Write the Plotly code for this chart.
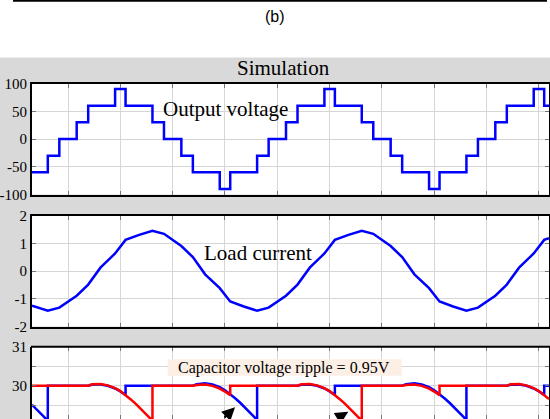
import plotly.graph_objects as go

W, H = 550, 419
SERIF = "Liberation Serif, Times New Roman, serif"
SANS = "Liberation Sans, Arial, sans-serif"

# ---------------- data (time in ms) ----------------
# Output voltage staircase: switching instants and levels
vout_t = [1.56, 3.07, 4.17, 5.83, 6.93, 9.5, 10.5, 13.07, 14.17, 15.83, 16.93, 19.5, 20.5,
          23.07, 24.17, 25.83, 26.93, 29.5, 30.5, 33.07, 34.17, 35.83, 36.93, 39.5, 40.5,
          43.07, 44.17, 45.83, 46.93, 49.5, 50.5, 50.96]
vout_v = [-60, -30, 0, 30, 60, 90, 60, 30, 0, -30, -60, -90, -60,
          -30, 0, 30, 60, 90, 60, 30, 0, -30, -60, -90, -60,
          -30, 0, 30, 60, 90, 60, 60]

# Load current
iload_t = [1.56, 1.8, 3.07, 4.17, 5.83, 6.93, 8.1, 9.5, 10.5, 11.8, 13.07, 14.17, 15.83, 16.93,
           18.1, 19.5, 20.5, 21.8, 23.07, 24.17, 25.83, 26.93, 28.1, 29.5, 30.5, 31.8, 33.07,
           34.17, 35.83, 36.93, 38.1, 39.5, 40.5, 41.8, 43.07, 44.17, 45.83, 46.93, 48.1,
           49.5, 50.5, 50.96]
iload_v = [-1.25, -1.28, -1.43, -1.32, -0.89, -0.49, 0.12, 0.63, 1.12, 1.30, 1.45, 1.34, 0.90, 0.50,
           -0.12, -0.62, -1.10, -1.28, -1.43, -1.32, -0.89, -0.49, 0.12, 0.63, 1.12, 1.30, 1.45,
           1.34, 0.90, 0.50, -0.12, -0.62, -1.10, -1.28, -1.43, -1.32, -0.89, -0.49, 0.12,
           0.63, 1.12, 1.18]

# Capacitor voltages
cap_blue_t = [1.56, 2.0, 2.5, 3.07, 3.07, 6.93, 7.3, 7.87, 8.1, 8.8, 9.5, 10.0, 10.5, 10.5,
              16.93, 17.3, 17.87, 18.1, 18.8, 19.5, 20.0, 20.5, 21.0, 21.5, 22.0, 22.5, 23.07, 23.07,
              26.93, 27.3, 27.87, 28.1, 28.8, 29.5, 30.0, 30.5, 30.5,
              36.93, 37.3, 37.87, 38.1, 38.8, 39.5, 40.0, 40.5, 41.0, 41.5, 42.0, 42.5, 43.07, 43.07,
              46.93, 47.3, 47.87, 48.1, 48.8, 49.5, 50.0, 50.5, 50.5, 50.96]
cap_blue_v = [29.51, 29.40, 29.26, 29.10, 30.0, 30.0, 30.025, 30.035, 30.033, 29.998, 29.928, 29.853, 29.763, 30.0,
              30.0, 30.04, 30.07, 30.065, 30.03, 29.96, 29.885, 29.785, 29.67, 29.55, 29.42, 29.285, 29.125, 30.0,
              30.0, 30.025, 30.035, 30.033, 29.998, 29.928, 29.853, 29.763, 30.0,
              30.0, 30.04, 30.07, 30.065, 30.03, 29.96, 29.885, 29.785, 29.67, 29.55, 29.42, 29.285, 29.125, 30.0,
              30.0, 30.025, 30.035, 30.033, 29.998, 29.928, 29.853, 29.763, 30.0, 30.0]
cap_red_t = [1.56, 6.93, 7.3, 7.87, 8.1, 8.8, 9.5, 10.0, 10.5, 11.0, 11.5, 12.0, 12.5, 13.07, 13.07,
             16.93, 17.3, 17.87, 18.1, 18.8, 19.5, 20.0, 20.5, 20.5,
             26.93, 27.3, 27.87, 28.1, 28.8, 29.5, 30.0, 30.5, 31.0, 31.5, 32.0, 32.5, 33.07, 33.07,
             36.93, 37.3, 37.87, 38.1, 38.8, 39.5, 40.0, 40.5, 40.5,
             46.93, 47.3, 47.87, 48.1, 48.8, 49.5, 50.0, 50.5, 50.96]
cap_red_v = [30.0, 30.0, 30.035, 30.046, 30.043, 30.008, 29.938, 29.863, 29.763, 29.648, 29.526, 29.398, 29.264, 29.103, 30.0,
             30.0, 30.02, 30.03, 30.028, 29.995, 29.925, 29.85, 29.755, 30.0,
             30.0, 30.035, 30.046, 30.043, 30.008, 29.938, 29.863, 29.763, 29.648, 29.526, 29.398, 29.264, 29.103, 30.0,
             30.0, 30.02, 30.03, 30.028, 29.995, 29.925, 29.85, 29.755, 30.0,
             30.0, 30.035, 30.046, 30.043, 30.008, 29.938, 29.863, 29.763, 29.657]

assert len(vout_t) == len(vout_v)
assert len(iload_t) == len(iload_v)
assert len(cap_blue_t) == len(cap_blue_v)
assert len(cap_red_t) == len(cap_red_v)

x_grid = [5, 10, 15, 20, 25, 30, 35, 40, 45, 50]
x_range = [1.56, 50.96]

v_ticks = [-100, -50, 0, 50, 100]
v_labels = ["-100", "-50", "0", "50", "100"]
i_ticks = [-2, -1, 0, 1, 2]
i_labels = ["-2", "-1", "0", "1", "2"]
c_ticks = [29, 29.5, 30, 30.5, 31]
c_labels = ["29", "", "30", "", "31"]

# ---------------- figure ----------------
def py(p):
    return (H - p) / H

def px(p):
    return p / W

BLUE = "#0000ff"
RED = "#ff0000"

fig = go.Figure()
fig.add_trace(go.Scatter(x=vout_t, y=vout_v, mode="lines", line=dict(color=BLUE, width=2.5, shape="hv"),
                         xaxis="x", yaxis="y", hoverinfo="skip"))
fig.add_trace(go.Scatter(x=iload_t, y=iload_v, mode="lines", line=dict(color=BLUE, width=2.5),
                         xaxis="x2", yaxis="y2", hoverinfo="skip"))
fig.add_trace(go.Scatter(x=cap_blue_t, y=cap_blue_v, mode="lines", line=dict(color=BLUE, width=2.5),
                         xaxis="x3", yaxis="y3", hoverinfo="skip"))
fig.add_trace(go.Scatter(x=cap_red_t, y=cap_red_v, mode="lines", line=dict(color=RED, width=2.5),
                         xaxis="x3", yaxis="y3", hoverinfo="skip"))

x_dom = [px(32), px(549)]
GRID = "#d6d6d6"

def xax(anchor, showline=True):
    return dict(anchor=anchor, domain=x_dom, range=x_range, tickvals=x_grid, showticklabels=False,
                showgrid=True, gridcolor=GRID, gridwidth=1, ticks="inside", ticklen=4, tickcolor="#777",
                showline=showline, linecolor="black", linewidth=2, mirror="ticks", zeroline=False,
                automargin=False)

def yax(anchor, dom, rng, tv, tt):
    return dict(anchor=anchor, domain=dom, range=rng, tickvals=tv, ticktext=tt,
                showgrid=True, gridcolor=GRID, gridwidth=1, ticks="inside", ticklen=4, tickcolor="#777",
                showline=True, linecolor="black", linewidth=2, mirror="ticks", zeroline=False,
                tickfont=dict(family=SERIF, size=15, color="black"), automargin=False)

fig.update_layout(
    width=W, height=H,
    margin=dict(l=0, r=0, t=0, b=0),
    paper_bgcolor="#d9d9d9",
    plot_bgcolor="white",
    showlegend=False,
    hovermode=False,
    xaxis=xax("y"),
    xaxis2=xax("y2"),
    xaxis3=xax("y3", showline=False),
    yaxis=yax("x", [py(194.5), py(83.5)], [-100, 100], v_ticks, v_labels),
    yaxis2=yax("x2", [py(326.5), py(215.5)], [-2, 2], i_ticks, i_labels),
    yaxis3=yax("x3", [0, py(346.7)], [29.146, 31], c_ticks, c_labels),
)

shapes = [
    # white header region
    dict(type="rect", xref="paper", yref="paper", x0=0, x1=1, y0=py(57.5), y1=1.01,
         fillcolor="white", line=dict(width=0), layer="below"),
    # top rule
    dict(type="line", xref="paper", yref="paper", x0=px(13), x1=px(547), y0=py(0.8), y1=py(0.8),
         line=dict(color="black", width=2)),
    # top border of third panel
    dict(type="line", xref="paper", yref="paper", x0=px(31), x1=px(550), y0=py(346.7), y1=py(346.7),
         line=dict(color="black", width=2)),
    # ripple label box
    dict(type="rect", xref="paper", yref="paper", x0=px(167.7), x1=px(401.7), y0=py(375.7), y1=py(359.3),
         fillcolor="#fcefe6", line=dict(width=0), layer="above"),
]
fig.update_layout(shapes=shapes)

ann = [
    dict(text="(b)", x=px(275), y=py(17), font=dict(family=SANS, size=16, color="black")),
    dict(text="Simulation", x=px(283), y=py(68), font=dict(family=SERIF, size=21, color="black")),
    dict(text="Output voltage", x=px(225), y=py(109), font=dict(family=SERIF, size=21, color="black")),
    dict(text="Load current", x=px(257.5), y=py(253), font=dict(family=SERIF, size=21, color="black")),
    dict(text="Capacitor voltage ripple = 0.95V", x=px(284), y=py(367.5),
         font=dict(family=SERIF, size=16, color="black")),
]
annotations = []
for a in ann:
    a.update(xref="paper", yref="paper", xanchor="center", yanchor="middle", showarrow=False)
    annotations.append(a)
for (ax_t, ax_v) in [(20.96, 29.45), (31.78, 29.33)]:
    annotations.append(dict(text="", x=ax_t, y=ax_v, xref="x3", yref="y3", showarrow=True,
                            ax=-12, ay=22, arrowhead=2, arrowsize=1.3, arrowwidth=2, arrowcolor="black"))
fig.update_layout(annotations=annotations)

fig.write_html("out.html", config={"displayModeBar": False},
               post_script="document.body.style.margin='0';document.body.style.overflow='hidden';")
